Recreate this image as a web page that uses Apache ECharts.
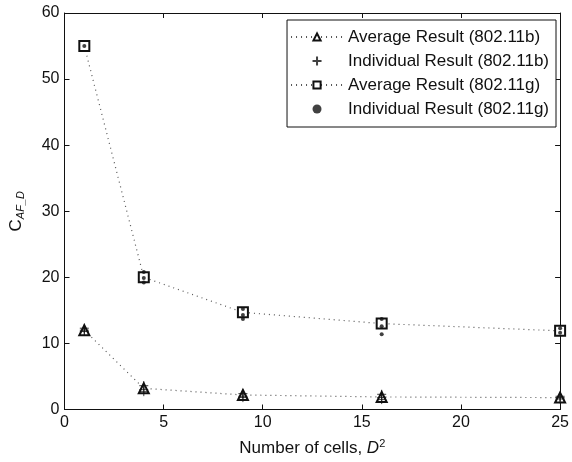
<!DOCTYPE html>
<html>
<head>
<meta charset="utf-8">
<script src="https://cdn.jsdelivr.net/npm/echarts@6/dist/echarts.min.js"></script>
<style>
  html, body { margin: 0; padding: 0; background: #fff; }
  #chart { width: 572px; height: 462px; }
</style>
</head>
<body>
<div id="chart"></div>
<script>
// cell counts D^2
const cells = [1, 4, 9, 16, 25]
const avgB = [12.0, 3.2, 2.2, 1.9, 1.8]
const avgG = [55.0, 20.0, 14.7, 13.0, 11.9]
// individual runs, [D^2, value]
const indivB = [
  [1, 12.3], [1, 11.8], [1, 12.0],
  [4, 3.6], [4, 3.0], [4, 2.7],
  [9, 2.4], [9, 2.0], [9, 1.8],
  [16, 2.3], [16, 1.8], [16, 1.5],
  [25, 2.0], [25, 1.8], [25, 1.6]
]
const indivG = [
  [1, 55.0],
  [4, 20.8], [4, 19.9], [4, 19.2],
  [9, 15.2], [9, 14.3], [9, 13.7],
  [16, 13.7], [16, 12.6], [16, 11.4],
  [25, 12.3], [25, 11.6]
]

const font = 'Liberation Sans'
const plus = 'path://M0,-5L0,5M-5,0L5,0'

var myChart = echarts.init(document.getElementById('chart'), null, { renderer: 'canvas' })

const axisCommon = {
  axisLine: { show: true, onZero: false, lineStyle: { color: '#111', width: 1 } },
  axisTick: { show: true, inside: true, length: 5, lineStyle: { color: '#111' } },
  splitLine: { show: false }
}

var option = {
  backgroundColor: '#fff',
  animation: false,
  textStyle: { fontFamily: font, color: '#000' },
  grid: { left: 63, right: 7, top: 13, bottom: 51 },
  legend: {
    orient: 'vertical',
    right: 16,
    top: 20,
    padding: [7, 7, 8, 3],
    itemGap: 4,
    itemWidth: 52,
    itemHeight: 9,
    borderColor: '#111',
    borderWidth: 1,
    borderRadius: 0,
    backgroundColor: '#fff',
    textStyle: { fontFamily: font, fontSize: 17, lineHeight: 20, color: '#111', padding: [0, 0, 0, 0] },
    data: ['Average Result (802.11b)', 'Individual Result (802.11b)', 'Average Result (802.11g)', 'Individual Result (802.11g)']
  },
  xAxis: [
    {
      type: 'value', min: 0, max: 25, interval: 5, position: 'bottom',
      name: '{n|Number of cells, }{i|D}{s|2}',
      nameLocation: 'middle', nameGap: 29,
      nameTextStyle: {
        rich: {
          n: { fontFamily: font, fontSize: 17, color: '#111' },
          i: { fontFamily: font, fontSize: 17, fontStyle: 'italic', color: '#111' },
          s: { fontFamily: font, fontSize: 11, color: '#111', verticalAlign: 'top', padding: [0, 0, 9, 0] }
        }
      },
      axisLabel: { fontFamily: font, fontSize: 16, color: '#111', margin: 5 },
      ...axisCommon
    },
    {
      type: 'value', min: 0, max: 25, interval: 5, position: 'top',
      axisLabel: { show: false },
      ...axisCommon
    }
  ],
  yAxis: [
    {
      type: 'value', min: 0, max: 60, interval: 10, position: 'left',
      name: '{c|C}{s|AF_D}',
      nameLocation: 'middle', nameGap: 38, nameRotate: 90,
      nameTextStyle: {
        rich: {
          c: { fontFamily: font, fontSize: 17, color: '#111' },
          s: { fontFamily: font, fontSize: 11, fontStyle: 'italic', color: '#111', padding: [9, 0, 0, 0] }
        }
      },
      axisLabel: { fontFamily: font, fontSize: 16, color: '#111', margin: 5 },
      ...axisCommon
    },
    {
      type: 'value', min: 0, max: 60, interval: 10, position: 'right',
      axisLabel: { show: false },
      ...axisCommon
    }
  ],
  series: [
    {
      name: 'Average Result (802.11b)',
      type: 'line',
      data: cells.map((c, i) => [c, avgB[i]]),
      symbol: 'emptyTriangle',
      symbolSize: 10,
      lineStyle: { color: '#555', width: 1.2, type: [1, 4] },
      itemStyle: { color: '#111', borderColor: '#111', borderWidth: 1 },
      z: 3
    },
    {
      name: 'Individual Result (802.11b)',
      type: 'scatter',
      data: indivB,
      symbol: plus,
      symbolSize: 9,
      itemStyle: { color: 'none', borderColor: '#111', borderWidth: 1 },
      z: 4
    },
    {
      name: 'Average Result (802.11g)',
      type: 'line',
      data: cells.map((c, i) => [c, avgG[i]]),
      symbol: 'emptyRect',
      symbolSize: 10,
      lineStyle: { color: '#555', width: 1.2, type: [1, 4] },
      itemStyle: { color: '#111', borderColor: '#111', borderWidth: 1 },
      z: 3
    },
    {
      name: 'Individual Result (802.11g)',
      type: 'scatter',
      data: indivG,
      symbol: 'circle',
      symbolSize: 4,
      itemStyle: { color: '#111' },
      z: 4
    }
  ]
}

myChart.setOption(option, true)
</script>
</body>
</html>
